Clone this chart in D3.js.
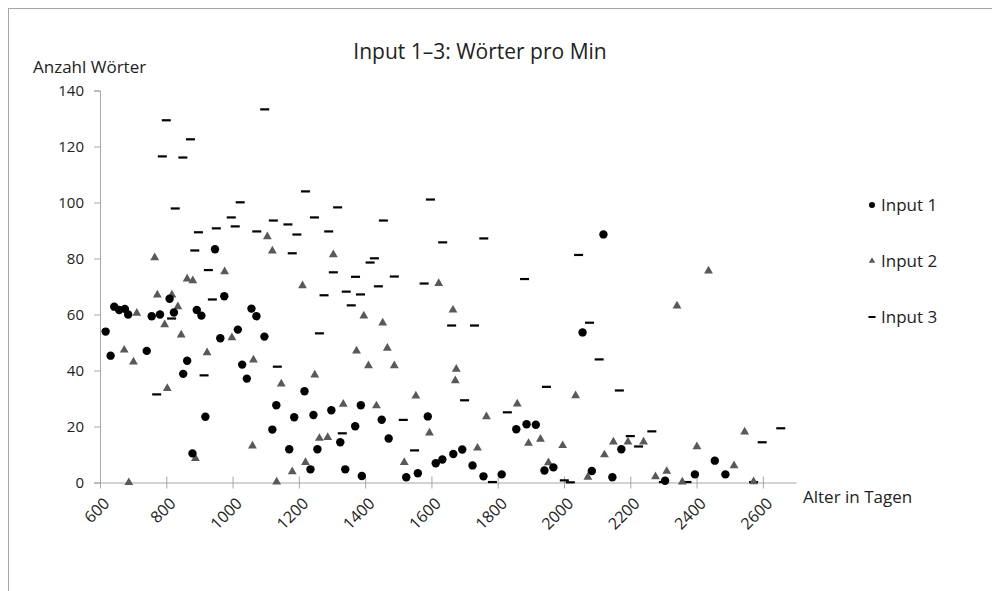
<!DOCTYPE html>
<html>
<head>
<meta charset="utf-8">
<script src="https://d3js.org/d3.v7.min.js"></script>
<style>
  body { margin: 0; background: #fff; }
  text { font-family: "Open Sans", sans-serif; fill: #222; }
</style>
</head>
<body>
<script>
// Input 1-3, [age in days, words per minute]
var input1 = [
  [617,53.9],[632,45.3],[643,62.8],[658,61.6],[675,62],[685,60],[741,47],[756,59.4],
  [781,60],[810,65.6],[823,60.7],[851,38.8],[863,43.5],[879,10.4],[892,61.6],[906,59.6],
  [918,23.5],[947,83.3],[963,51.5],[975,66.5],[1016,54.6],[1029,42.1],[1043,37.1],[1057,62.1],
  [1072,59.4],[1096,52.1],[1217,32.6],[1132,27.6],[1186,23.3],[1244,24.1],[1298,25.8],[1387,27.6],
  [1450,22.4],[1589,23.6],[1120,18.9],[1370,20.1],[1471,15.7],[1325,14.4],[1171,11.9],[1256,11.9],
  [1235,4.7],[1340,4.7],[1390,2.3],[1524,1.9],[1559,3.3],[1613,6.9],[1633,8.2],[2119,88.6],
  [2056,53.6],[1856,19],[1887,20.8],[1915,20.6],[1666,10.2],[1693,11.8],[1724,6.1],[1757,2.2],
  [1812,2.9],[1941,4.3],[1968,5.4],[2084,4.1],[2146,1.9],[2173,11.9],[2455,7.8],[2395,2.9],
  [2487,2.9],[2305,0.6]
];
var input2 = [
  [673,47.3],[701,43.1],[711,60.5],[687,0],[773,67],[795,56.4],[803,33.6],[817,67],
  [835,62.8],[845,52.7],[863,72.7],[880,72.1],[888,8.6],[923,46.4],[976,75.3],[998,51.7],
  [1063,43.8],[1060,13.1],[765,80.3],[1105,87.8],[1120,82.7],[1304,81.4],[1211,70.3],[1622,71.1],
  [1396,59.5],[1453,57],[1665,61.6],[1374,47],[1467,48],[1410,41.7],[1488,41.7],[1147,35.2],
  [1248,38.4],[1334,28],[1434,27.4],[1553,30.9],[1594,17.7],[1262,15.8],[1287,16.1],[1220,7.2],
  [1180,3.9],[1133,0.2],[1518,7.2],[1675,40.5],[1672,36.4],[1766,23.5],[1739,12.3],[1859,28.1],
  [1893,14],[1929,15.5],[1953,7.1],[1996,13.2],[2035,31],[2072,1.9],[2122,9.9],[2149,14.5],
  [2193,14.5],[2436,75.6],[2341,63.1],[2240,14.5],[2401,12.8],[2545,18.1],[2513,6],[2276,2.1],
  [2310,4],[2357,0.2],[2572,0.3]
];
var input3 = [
  [771,31.5],[816,58.6],[914,38.3],[939,65.4],[927,75.9],[800,129.4],[788,116.5],[873,122.6],
  [850,116.1],[827,97.9],[897,89.4],[886,82.9],[951,90.8],[996,94.7],[1023,100.1],[1008,91.5],
  [1073,89.7],[1097,133.3],[1220,104],[1317,98.3],[1597,101.1],[1123,93.6],[1167,92.2],[1247,94.7],
  [1455,93.6],[1194,88.6],[1290,89.7],[1634,85.8],[1180,81.9],[1428,80.1],[1415,78.6],[1304,75.1],
  [1371,73.5],[1488,73.6],[1578,71.1],[1276,66.9],[1343,68.2],[1386,67.2],[1440,70.1],[1358,63.3],
  [1262,53.3],[1135,41.4],[1331,17.6],[1515,22.4],[1549,11.5],[1661,56.1],[1758,87.2],[2044,81.3],
  [1881,72.7],[1730,56.1],[2077,57.1],[2106,44],[1947,34.2],[2167,32.9],[1700,29.4],[1829,25.1],
  [2200,16.6],[2225,12.9],[1784,0.2],[2001,0.8],[2019,0.1],[2265,18.3],[2598,14.4],[2654,19.4],
  [2300,0.2],[2371,0.2],[2572,0.2]
];
var xTicks = [600, 800, 1000, 1200, 1400, 1600, 1800, 2000, 2200, 2400, 2600];
var yTicks = [0, 20, 40, 60, 80, 100, 120, 140];
var seriesNames = ["Input 1", "Input 2", "Input 3"];

var width = 992, height = 591;

var svg = d3.select("body")
    .append("svg")
    .attr("width", width)
    .attr("height", height);

// chart frame (runs off the right and bottom edge)
svg.append("rect")
    .attr("x", 8.5)
    .attr("y", 8.5)
    .attr("width", 1000)
    .attr("height", 620)
    .attr("fill", "none")
    .attr("stroke", "#a6a6a6");

var x = d3.scaleLinear().domain([600, 2700]).range([100, 796]);
var y = d3.scaleLinear().domain([0, 140]).range([482.5, 90.5]);

// y axis
var yAxis = svg.append("g")
    .attr("transform", "translate(100,0)")
    .call(d3.axisLeft(y).tickValues(yTicks).tickSize(6).tickPadding(10));
yAxis.selectAll("text").style("font-size", "15px").attr("fill", "#222");

// x axis, ticks cross the line
var xAxis = svg.append("g")
    .attr("transform", "translate(0," + y(0) + ")")
    .call(d3.axisBottom(x).tickValues(xTicks).tickFormat(d3.format("d")).tickSizeOuter(0));
xAxis.selectAll(".tick line").attr("y1", -6).attr("y2", 6);
xAxis.selectAll("text")
    .style("font-size", "16px")
    .attr("fill", "#222")
    .attr("text-anchor", "end")
    .attr("dy", null)
    .attr("y", null)
    .attr("transform", "translate(10,22) rotate(-45)");

svg.selectAll(".domain, .tick line").attr("stroke", "#a6a6a6");

// Input 3: dashes
svg.selectAll("rect.in3")
    .data(input3)
    .enter()
    .append("rect")
    .attr("class", "in3")
    .attr("x", function(d){ return x(d[0]) - 4.5; })
    .attr("y", function(d){ return y(d[1]) - 1; })
    .attr("width", 9)
    .attr("height", 2.2)
    .attr("fill", "#000");

// Input 2: triangles
var tri = d3.symbol().type(d3.symbolTriangle).size(34);
svg.selectAll("path.in2")
    .data(input2)
    .enter()
    .append("path")
    .attr("class", "in2")
    .attr("d", tri)
    .attr("transform", function(d){ return "translate(" + x(d[0]) + "," + y(d[1]) + ")"; })
    .attr("fill", "#595959");

// Input 1: circles
svg.selectAll("circle.in1")
    .data(input1)
    .enter()
    .append("circle")
    .attr("class", "in1")
    .attr("cx", function(d){ return x(d[0]); })
    .attr("cy", function(d){ return y(d[1]); })
    .attr("r", 4.2)
    .attr("fill", "#000");

// titles
svg.append("text")
    .attr("x", 480)
    .attr("y", 59)
    .attr("text-anchor", "middle")
    .style("font-size", "21px")
    .text("Input 1–3: Wörter pro Min");

svg.append("text")
    .attr("x", 33)
    .attr("y", 73)
    .style("font-size", "17px")
    .text("Anzahl Wörter");

svg.append("text")
    .attr("x", 803)
    .attr("y", 503)
    .style("font-size", "17px")
    .text("Alter in Tagen");

// legend
var legend = svg.selectAll("g.legend")
    .data(seriesNames)
    .enter()
    .append("g")
    .attr("class", "legend")
    .attr("transform", function(d, i){ return "translate(872," + (205 + i * 56) + ")"; });

legend.append("text")
    .attr("x", 9)
    .attr("y", 6)
    .style("font-size", "17px")
    .text(function(d){ return d; });

legend.filter(function(d, i){ return i === 0; })
    .append("circle").attr("r", 3).attr("fill", "#000");
legend.filter(function(d, i){ return i === 1; })
    .append("path").attr("d", d3.symbol().type(d3.symbolTriangle).size(18)).attr("fill", "#595959");
legend.filter(function(d, i){ return i === 2; })
    .append("rect").attr("x", -3.5).attr("y", -1).attr("width", 7).attr("height", 2).attr("fill", "#000");
</script>
</body>
</html>
